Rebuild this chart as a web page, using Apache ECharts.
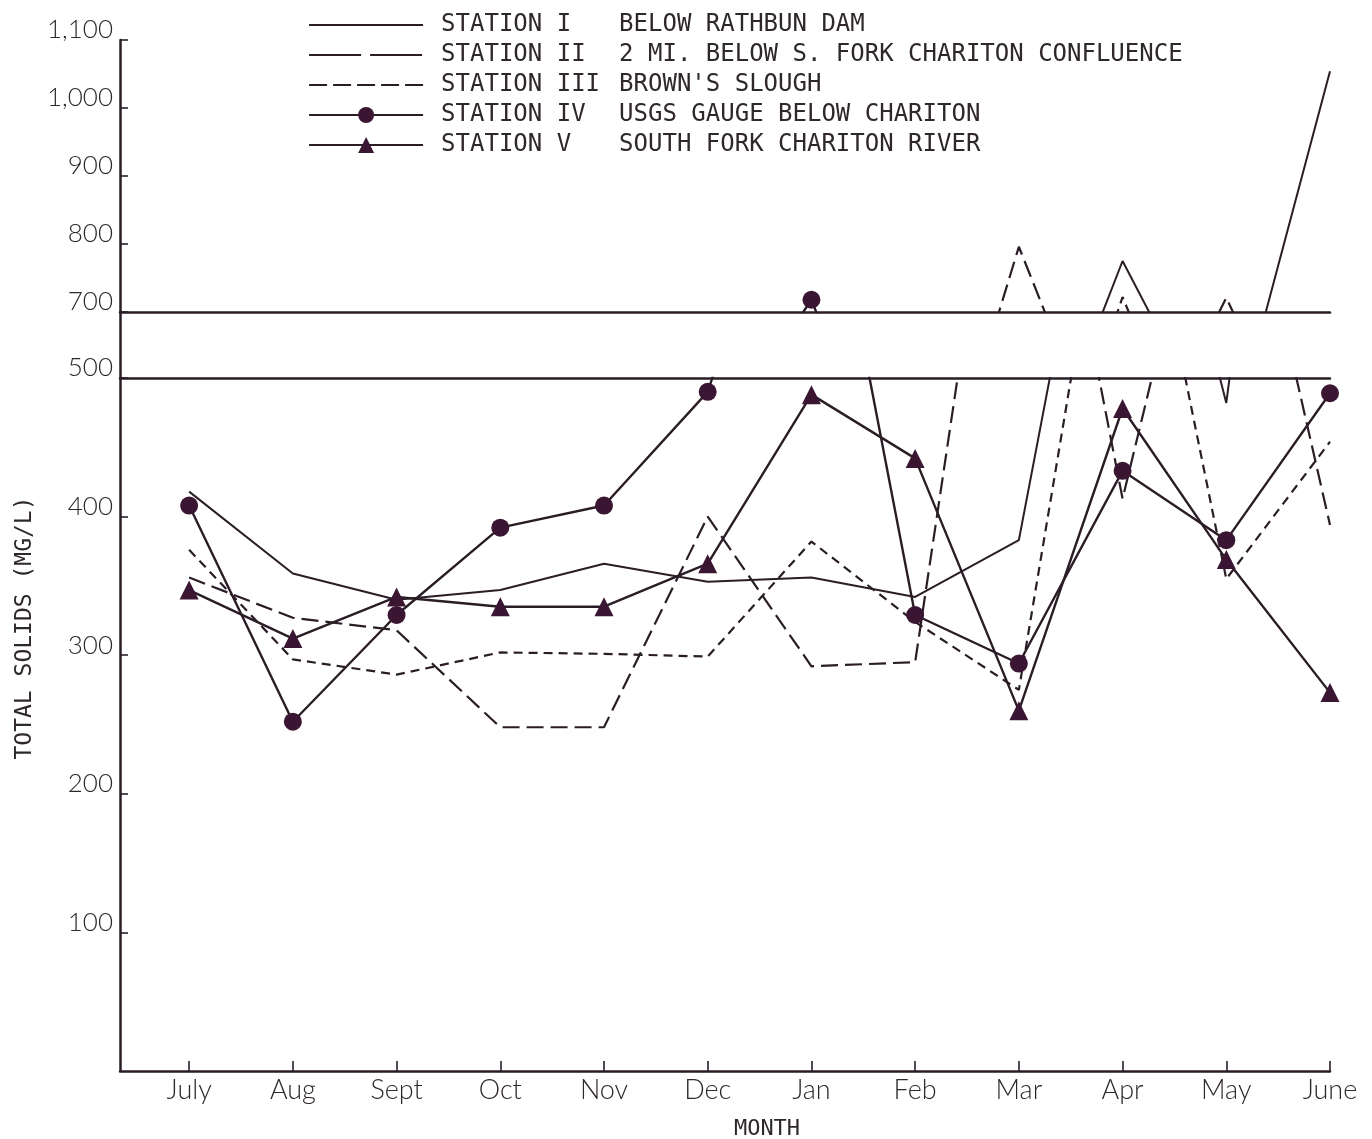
<!DOCTYPE html>
<html>
<head>
<meta charset="utf-8">
<style>
  html, body { margin: 0; padding: 0; background: #ffffff; }
  #chart { width: 1372px; height: 1139px; }
</style>
<script src="https://cdn.jsdelivr.net/npm/echarts@6/dist/echarts.min.js"></script>
</head>
<body>
<div id="chart"></div>
<script>
// ---- data ----
const months = ['July', 'Aug', 'Sept', 'Oct', 'Nov', 'Dec', 'Jan', 'Feb', 'Mar', 'Apr', 'May', 'June'];
const stationNames = ['STATION I', 'STATION II', 'STATION III', 'STATION IV', 'STATION V'];
const stationPlaces = ['BELOW RATHBUN DAM', '2 MI. BELOW S. FORK CHARITON CONFLUENCE', "BROWN'S SLOUGH", 'USGS GAUGE BELOW CHARITON', 'SOUTH FORK CHARITON RIVER'];
const station1 = [418, 359, 340, 347, 366, 353, 356, 342, 383, 775, 482, 1054];
const station2 = [356, 327, 318, 248, 248, 400, 292, 295, 796, 413, 721, 394];
const station3 = [376, 297, 286, 302, 301, 299, 382, 324, 275, 722, 355, 454];
const station4 = [408, 252, 329, 392, 408, 490, 718, 329, 294, 433, 383, 489];
const station5 = [347, 312, 342, 335, 335, 366, 488, 442, 260, 478, 369, 273];
const lowerTicks = [0, 100, 200, 300, 400, 500];
const upperTicks = [700, 800, 900, 1000, 1100];

// ---- styling ----
const ink = '#2a1d26';
const markInk = '#3a1632';
const labelInk = '#2e272b';
const tickFont = 'Lato, "DejaVu Sans", sans-serif';
const monoFont = '"DejaVu Sans Mono", "Liberation Mono", monospace';
const monthIdx = months.map((m, i) => i);

const styles = [
  { symbol: 'none', type: 'solid', width: 2 },
  { symbol: 'none', type: [17, 7], width: 2.2 },
  { symbol: 'none', type: [9, 6], width: 2.2 },
  { symbol: 'circle', size: 18, type: 'solid', width: 2.4 },
  { symbol: 'triangle', size: 19, type: 'solid', width: 2.4 }
];
const allData = [station1, station2, station3, station4, station5];

function fmtThousands(v) {
  return String(v).replace(/\B(?=(\d{3})+(?!\d))/g, ',');
}

const series = [];
allData.forEach((arr, k) => {
  const st = styles[k];
  const pts = arr.map((v, i) => [i, v]);
  [[0, 0], [1, 1]].forEach(([xi, yi]) => {
    series.push({
      name: stationNames[k],
      type: 'line',
      xAxisIndex: xi,
      yAxisIndex: yi,
      data: pts,
      clip: true,
      symbol: st.symbol,
      symbolSize: st.size || 0,
      showSymbol: st.symbol !== 'none',
      color: markInk,
      itemStyle: { color: markInk, borderWidth: 0 },
      lineStyle: { color: ink, width: st.width, type: st.type },
      emphasis: { disabled: true },
      z: 3 + k
    });
  });
});

const legendDash = ['solid', [52, 9], [18, 6], 'solid', 'solid'];
const legendHasMark = [false, false, false, true, true];

const yLabelStyle = {
  fontFamily: tickFont, fontWeight: 300, fontSize: 26, color: labelInk,
  margin: 7, verticalAlign: 'bottom', lineHeight: 20
};

const option = {
  animation: false,
  backgroundColor: '#ffffff',
  grid: [
    { left: 120, right: 42, top: 378, bottom: 68, outerBoundsMode: 'none', containLabel: false },
    { left: 120, right: 42, top: 40, bottom: 827, outerBoundsMode: 'none', containLabel: false },
    { left: 120, right: 42, top: 312, bottom: 761, outerBoundsMode: 'none', containLabel: false }
  ],
  xAxis: [
    {
      gridIndex: 0, type: 'value', min: -2 / 3, max: 11, position: 'bottom',
      axisLine: { show: true, onZero: false, lineStyle: { color: ink, width: 2.5 } },
      axisTick: { show: true, customValues: monthIdx, inside: true, length: 10, lineStyle: { color: ink, width: 1.6 } },
      axisLabel: {
        customValues: monthIdx, formatter: v => months[Math.round(v)],
        fontFamily: tickFont, fontWeight: 300, fontSize: 27, color: labelInk, margin: 6
      },
      splitLine: { show: false },
      name: 'MONTH', nameLocation: 'middle', nameGap: 47,
      nameTextStyle: { fontFamily: monoFont, fontSize: 22, color: labelInk, padding: [0, 0, 0, 84] }
    },
    { gridIndex: 1, type: 'value', min: -2 / 3, max: 11, show: false },
    {
      gridIndex: 2, type: 'value', min: -2 / 3, max: 11, position: 'top',
      axisLine: { show: true, onZero: false, lineStyle: { color: ink, width: 2.5 } },
      axisTick: { show: false }, axisLabel: { show: false }, splitLine: { show: false }
    },
    {
      gridIndex: 2, type: 'value', min: -2 / 3, max: 11, position: 'bottom',
      axisLine: { show: true, onZero: false, lineStyle: { color: ink, width: 2.5 } },
      axisTick: { show: false }, axisLabel: { show: false }, splitLine: { show: false }
    }
  ],
  yAxis: [
    {
      gridIndex: 0, type: 'value', min: lowerTicks[0], max: lowerTicks[lowerTicks.length - 1], interval: 100,
      axisLine: { show: true, onZero: false, lineStyle: { color: ink, width: 2.5 } },
      axisTick: { show: true, inside: true, length: 8, lineStyle: { color: ink, width: 1.6 } },
      axisLabel: Object.assign({ showMinLabel: false, formatter: fmtThousands }, yLabelStyle),
      splitLine: { show: false }
    },
    {
      gridIndex: 1, type: 'value', min: upperTicks[0], max: upperTicks[upperTicks.length - 1], interval: 100,
      axisLine: { show: true, onZero: false, lineStyle: { color: ink, width: 2.5 } },
      axisTick: { show: true, inside: true, length: 8, lineStyle: { color: ink, width: 1.6 } },
      axisLabel: Object.assign({ formatter: fmtThousands }, yLabelStyle),
      splitLine: { show: false }
    },
    {
      gridIndex: 2, type: 'value', min: 500, max: 700, interval: 200,
      axisLine: { show: true, onZero: false, lineStyle: { color: ink, width: 2.5 } },
      axisTick: { show: false }, axisLabel: { show: false }, splitLine: { show: false }
    }
  ],
  legend: {
    orient: 'vertical', left: 308, top: 13, padding: 0,
    itemWidth: 114, itemHeight: 20, itemGap: 6,
    selectedMode: false,
    data: stationNames.map((n, k) => ({
      name: n,
      lineStyle: { type: legendDash[k], width: 2.2, color: ink },
      itemStyle: legendHasMark[k]
        ? { color: markInk, borderWidth: 0 }
        : { color: 'rgba(0,0,0,0)', borderWidth: 0, borderColor: 'rgba(0,0,0,0)' }
    })),
    formatter: function (name) {
      const k = stationNames.indexOf(name);
      return '{a|' + name + '}{b|' + stationPlaces[k] + '}';
    },
    textStyle: {
      fontFamily: monoFont, fontSize: 24, color: labelInk, lineHeight: 24,
      rich: {
        a: { fontFamily: monoFont, fontSize: 24, color: labelInk, width: 178, padding: [0, 0, 0, 13] },
        b: { fontFamily: monoFont, fontSize: 24, color: labelInk }
      }
    }
  },
  graphic: [
    {
      type: 'text', x: 25, y: 628, rotation: Math.PI / 2,
      style: {
        text: 'TOTAL SOLIDS (MG/L)', fontFamily: monoFont, fontSize: 23, fill: labelInk,
        align: 'center', verticalAlign: 'middle'
      }
    }
  ],
  series: series
};

const chart = echarts.init(document.getElementById('chart'), null, { renderer: 'canvas' });
chart.setOption(option);
</script>
</body>
</html>
